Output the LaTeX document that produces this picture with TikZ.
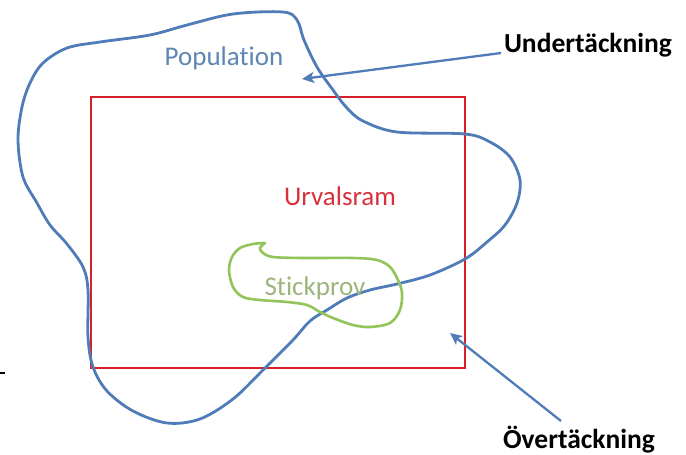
\documentclass[tikz,border=0pt]{standalone}
\usepackage{fontspec}
\setmainfont[Ligatures=NoCommon]{Carlito}
\usetikzlibrary{arrows.meta}
\definecolor{popblue}{HTML}{4F7CB8}
\definecolor{poptext}{HTML}{5D86B3}
\definecolor{framered}{HTML}{D42027}
\definecolor{framered2}{HTML}{D9303C}
\definecolor{samplegreen}{HTML}{92C45A}
\definecolor{sampletext}{HTML}{9BB57C}
\tikzset{
  lbl/.style={inner sep=0pt, font=\fontsize{27}{31}\selectfont},
  blbl/.style={inner sep=0pt, font=\fontsize{27.5}{32}\selectfont\bfseries, text=black},
  callout/.style={draw=popblue, line width=2.3pt, -{Stealth[length=12pt,width=11pt,inset=3pt]}},
  popcurve/.style={draw=popblue, line width=2.8pt, line join=round},
  samplecurve/.style={draw=samplegreen, line width=2.6pt, line join=round, line cap=round},
  framebox/.style={draw=framered, line width=2.6pt}
}
\begin{document}
\begin{tikzpicture}[x=1pt,y=-1pt]
\useasboundingbox (0,0) rectangle (686,455);
\fill[white] (0,0) rectangle (686,455);
% frame
\node[framebox, minimum width=374pt, minimum height=271pt, inner sep=0pt] (frame) at (278,232.5) {};
% population curve
\draw[popcurve] plot[smooth cycle, tension=0.55] coordinates {
 (283,12) (297,20) (304,40) (317,67) (333,90) (347,108) (363,121) (397,132) (465,134) (490,142) (510,157) (520,180) (517,203) (505,225) (487,242) (465,259) (430,275) (397,284) (370,290) (347,298) (327,310) (310,321) (293,340) (263,370) (233,399) (200,419) (167,423) (133,411) (107,391) (93,367) (88,337) (88,290) (83,267) (67,244) (50,225) (37,203) (23,177) (18,140) (22,107) (30,83) (43,63) (67,48) (100,42) (150,35) (187,25) (233,14)};
% sample curve
\draw[samplecurve] plot[smooth, tension=0.55] coordinates {
 (264,243) (253,244) (240,248) (232,257) (229,270) (233,287) (243,297) (260,300) (287,302) (307,305) (320,312) (333,318) (353,325) (370,327) (390,323) (400,310) (402,293) (398,280) (390,267) (377,260) (353,258) (303,258) (273,257) (263,253) (260,248) (265,243)};
% texts
\node[lbl, text=poptext, anchor=base] (pop) at (224,65) {Population};
\node[lbl, text=framered2, anchor=base] (ram) at (340,205) {Urvalsram};
\node[lbl, text=sampletext, anchor=base] (stick) at (315,295) {Stickprov};
\node[blbl, anchor=base] (under) at (588,52) {Undertäckning};
\node[blbl, anchor=base] (over) at (579,448) {Övertäckning};
% callouts
\coordinate (undertip) at (302,79);
\coordinate (underfrom) at (501,53);
\coordinate (overtip) at (450,333);
\coordinate (overfrom) at (561,421);
\draw[callout] (underfrom) -- (undertip);
\draw[callout] (overfrom) -- (overtip);
% small tick at left
\coordinate (tickA) at (0,373);
\coordinate (tickB) at (4.5,373);
\draw[line width=1.3pt] (tickA) -- (tickB);
\end{tikzpicture}
\end{document}
